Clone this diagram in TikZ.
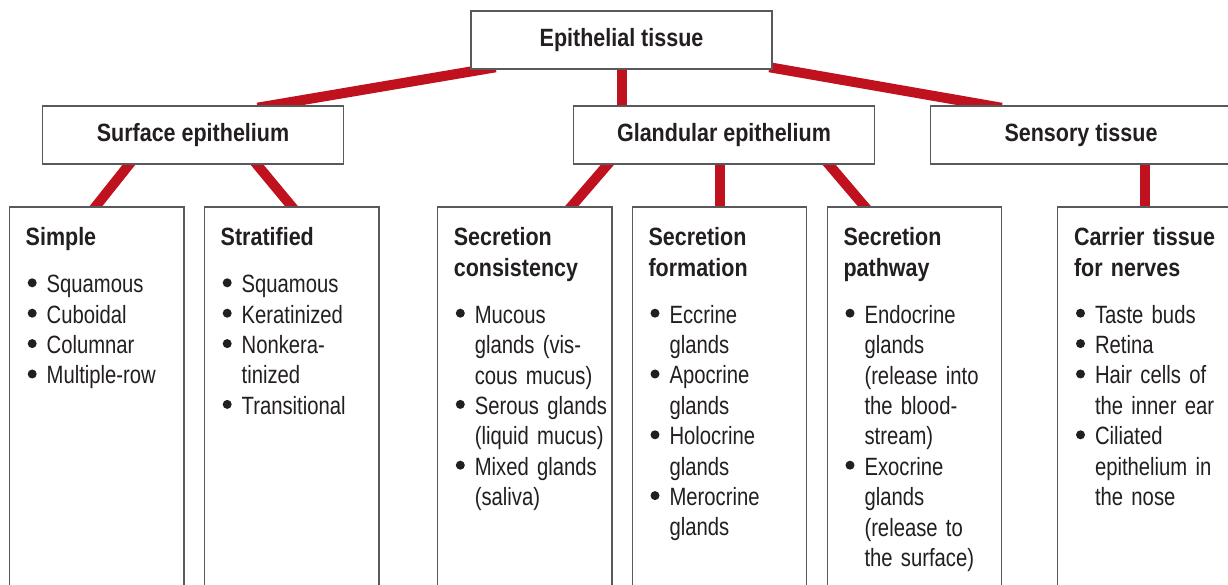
\documentclass[tikz,border=0pt]{standalone}
\usepackage{fontspec}
\setmainfont{Liberation Sans}[FakeStretch=0.81]
\newfontfamily\headfont{Liberation Sans}[FakeStretch=0.86]
\usetikzlibrary{backgrounds,calc}

\definecolor{linkred}{RGB}{191,17,30}
\definecolor{ink}{RGB}{35,31,32}
\definecolor{frame}{RGB}{88,89,91}

% round bullet followed by the hanging indent of a list line
\newcommand\itembul{\makebox[21pt][l]{\hspace{2pt}\tikz[baseline=0pt]\fill[ink] (4.5pt,10pt) circle[radius=4.5pt];}}
\newcommand\contline{\hspace*{21pt}}

\begin{document}
\begin{tikzpicture}[x=1pt,y=-1pt,
  topbox/.style={draw=frame, line width=1.3pt, fill=white,
    minimum width=301pt, minimum height=58pt, inner sep=0pt,
    font=\headfont\bfseries\fontsize{25}{30.4}\selectfont, text=ink,
    text height=17.9pt, text depth=4pt},
  colbox/.style={draw=frame, line width=1.3pt, fill=white,
    minimum width=174.5pt, minimum height=393.5pt, inner sep=0pt, anchor=north},
  coltext/.style={anchor=base west, inner sep=0pt, text width=165pt, align=left,
    font=\fontsize{25}{30.4}\selectfont, text=ink},
  link/.style={draw=linkred, line width=10pt, shorten <=-14pt, shorten >=-14pt},
]
\useasboundingbox (0,0) rectangle (1228,585);

% first and second level
\node[topbox] (epi)  at (621.5,40) {Epithelial tissue};
\node[topbox] (surf) at (193,135)  {Surface epithelium};
\node[topbox] (gland) at (724,135) {Glandular epithelium};
\node[topbox] (sens) at (1081,135) {Sensory tissue};

% third level columns
\node[colbox] (simple) at (96.7,206.5)  {};
\node[colbox] (strat)  at (291.7,206.5) {};
\node[colbox] (cons)   at (524.8,206.5) {};
\node[colbox] (form)   at (719.5,206.5) {};
\node[colbox] (path)   at (914.5,206.5) {};
\node[colbox] (carr)   at (1145,206.5)  {};

\node[coltext] (simpletxt) at ($(simple.north west)+(16.7,39.5)$) {%
  {\headfont\bfseries Simple}\\[16.4pt]
  \itembul Squamous\\
  \itembul Cuboidal\\
  \itembul Columnar\\
  \itembul Multiple-row};

\node[coltext] (strattxt) at ($(strat.north west)+(16.7,39.5)$) {%
  {\headfont\bfseries Stratified}\\[16.4pt]
  \itembul Squamous\\
  \itembul Keratinized\\
  \itembul Nonkera-\\
  \contline tinized\\
  \itembul Transitional};

\node[coltext] (constxt) at ($(cons.north west)+(16.7,39.5)$) {%
  {\headfont\bfseries Secretion}\\
  {\headfont\bfseries consistency}\\[16.4pt]
  \itembul Mucous\\
  \contline glands (vis-\\
  \contline cous mucus)\\
  \itembul Serous glands\\
  \contline (liquid mucus)\\
  \itembul Mixed glands\\
  \contline (saliva)};

\node[coltext] (formtxt) at ($(form.north west)+(16.7,39.5)$) {%
  {\headfont\bfseries Secretion}\\
  {\headfont\bfseries formation}\\[16.4pt]
  \itembul Eccrine\\
  \contline glands\\
  \itembul Apocrine\\
  \contline glands\\
  \itembul Holocrine\\
  \contline glands\\
  \itembul Merocrine\\
  \contline glands};

\node[coltext] (pathtxt) at ($(path.north west)+(16.7,39.5)$) {%
  {\headfont\bfseries Secretion}\\
  {\headfont\bfseries pathway}\\[16.4pt]
  \itembul Endocrine\\
  \contline glands\\
  \contline (release into\\
  \contline the blood-\\
  \contline stream)\\
  \itembul Exocrine\\
  \contline glands\\
  \contline (release to\\
  \contline the surface)};

\node[coltext] (carrtxt) at ($(carr.north west)+(16.7,39.5)$) {%
  {\headfont\bfseries Carrier tissue}\\
  {\headfont\bfseries for nerves}\\[16.4pt]
  \itembul Taste buds\\
  \itembul Retina\\
  \itembul Hair cells of\\
  \contline the inner ear\\
  \itembul Ciliated\\
  \contline epithelium in\\
  \contline the nose};

% red connectors, tucked under the boxes
\begin{scope}[on background layer]
  \draw[link] ($(epi.south west)+(11.4,0)$) -- ($(surf.north west)+(229.5,0)$);
  \draw[link] (epi.south) -- (epi.south |- gland.north);
  \draw[link] ($(epi.south east)+(10.5,0)$) -- ($(sens.north west)+(58,0)$);
  \draw[link] ($(surf.south)+(-64,0)$) -- ($(simple.north)+(-1,0)$);
  \draw[link] ($(surf.south)+(64,0)$) -- (strat.north);
  \draw[link] ($(gland.south)+(-116.5,0)$) -- ($(cons.north west)+(134.5,0)$);
  \draw[link] (form.north |- gland.south) -- (form.north);
  \draw[link] ($(gland.south)+(105,0)$) -- ($(path.north west)+(38,0)$);
  \draw[link] (carr.north |- sens.south) -- (carr.north);
\end{scope}
\end{tikzpicture}
\end{document}
